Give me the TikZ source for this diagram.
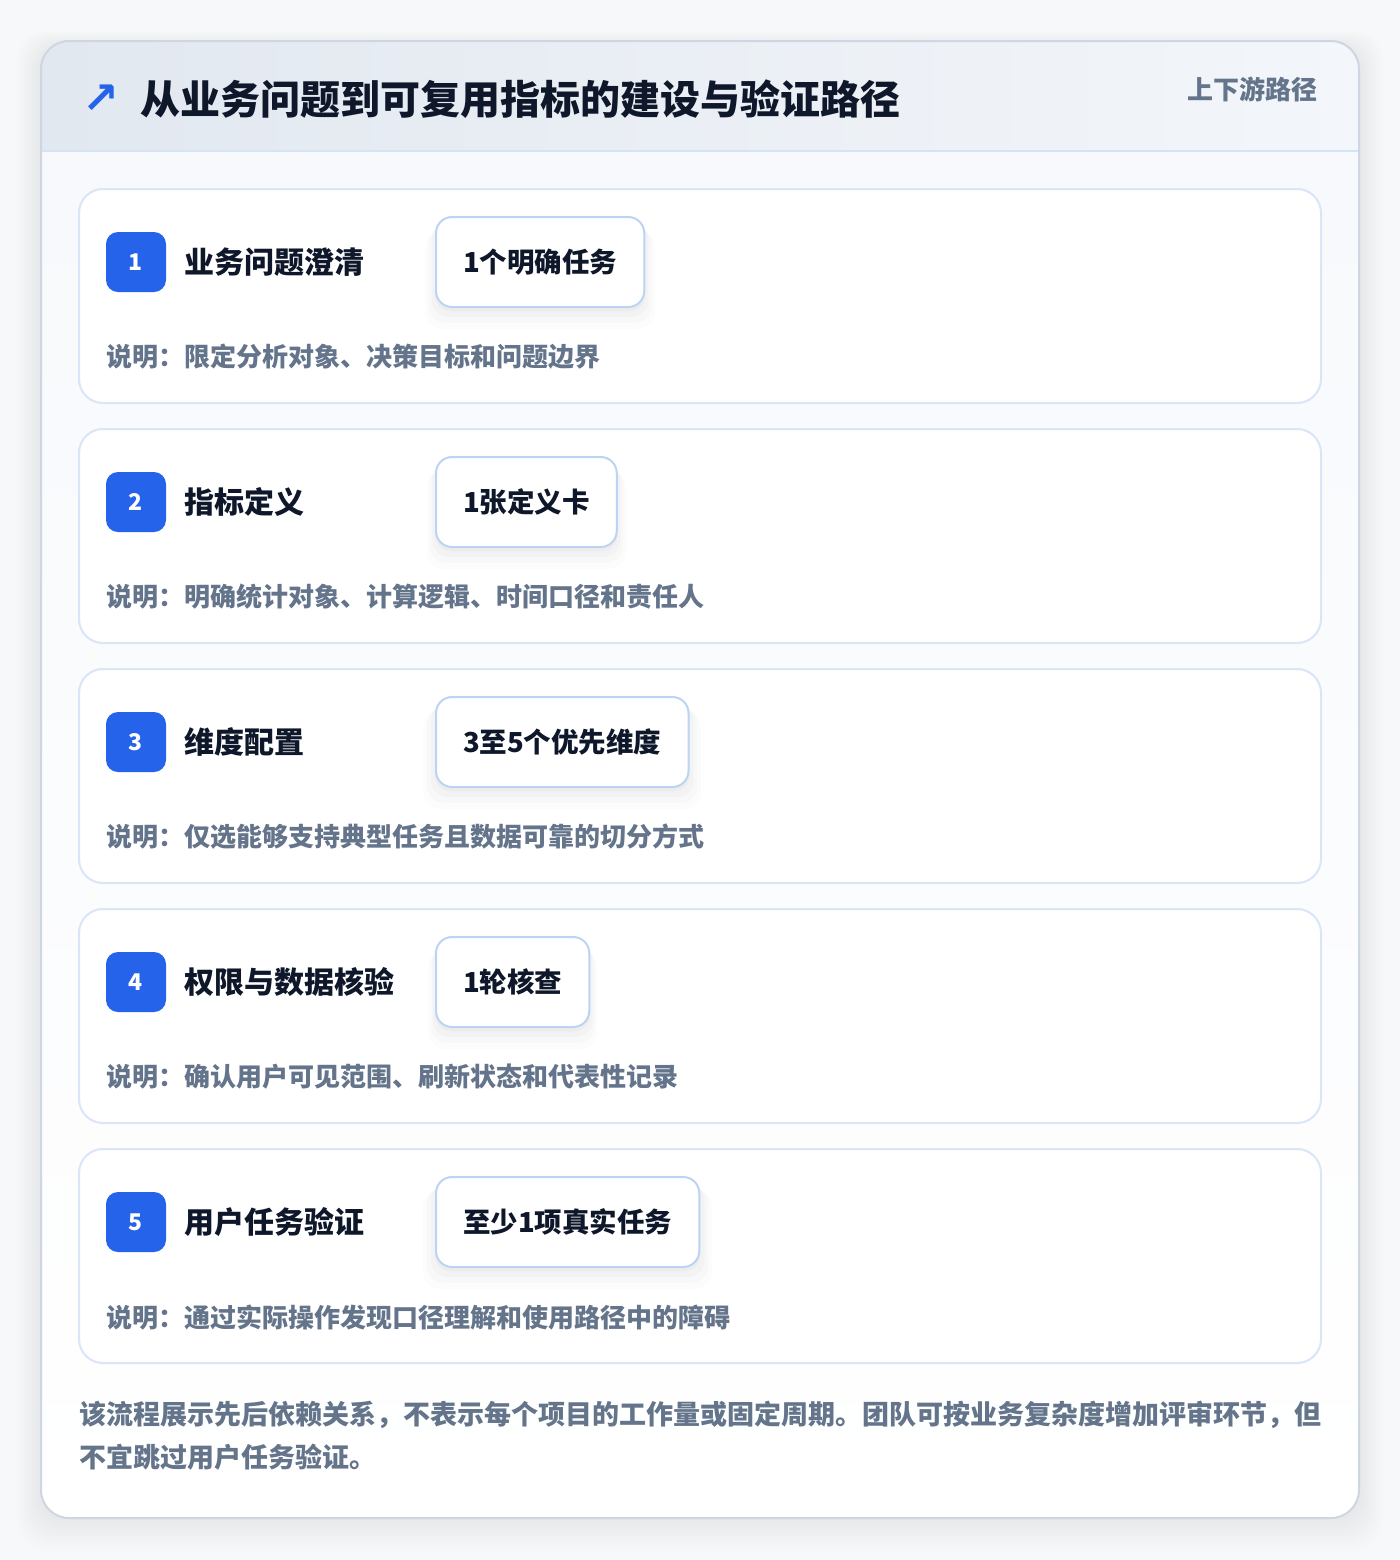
\documentclass[tikz,border=0pt]{standalone}
\usepackage{fontspec}
\setmainfont{Noto Sans CJK SC}
\newfontfamily\symfont{DejaVu Sans}
\usepackage{tikz}
\usetikzlibrary{positioning,shadows}
\XeTeXlinebreaklocale "zh"
\XeTeXlinebreakskip=0pt plus 2pt

\definecolor{pagebg}{HTML}{F7F8FA}
\definecolor{hdrleft}{HTML}{E2E8F0}
\definecolor{hdrright}{HTML}{F3F6FA}
\definecolor{bodytop}{HTML}{F7F9FC}
\definecolor{cardline}{HTML}{CDD6E2}
\definecolor{hdrline}{HTML}{D6E3F5}
\definecolor{stepline}{HTML}{D8E6F7}
\definecolor{pillline}{HTML}{BCD4F3}
\definecolor{ink}{HTML}{0F172A}
\definecolor{muted}{HTML}{64748B}
\definecolor{accent}{HTML}{2563EB}

\tikzset{
  stepcard/.style={draw=stepline, line width=1pt, fill=white, rounded corners=12pt,
    minimum width=621pt, minimum height=107pt},
  badge/.style={fill=accent, text=white, rounded corners=6pt, minimum size=30pt, inner sep=0pt,
    font=\fontsize{11.5}{13}\selectfont\bfseries},
  steptitle/.style={anchor=west, inner sep=0pt, text=ink, font=\fontsize{15}{18}\selectfont\bfseries},
  pill/.style={anchor=west, draw=pillline, line width=1pt, fill=white, rounded corners=8pt,
    minimum height=45pt, inner xsep=13.5pt, text=ink, font=\fontsize{13.75}{16}\selectfont\bfseries,
    drop shadow={shadow xshift=0pt, shadow yshift=-2pt, shadow scale=1.01, opacity=0.025, fill=black},
    drop shadow={shadow xshift=0pt, shadow yshift=-4pt, shadow scale=1.04, opacity=0.02, fill=black},
    drop shadow={shadow xshift=0pt, shadow yshift=-6pt, shadow scale=1.07, opacity=0.015, fill=black},
    drop shadow={shadow xshift=0pt, shadow yshift=-8pt, shadow scale=1.10, opacity=0.01, fill=black}},
  desc/.style={anchor=west, inner sep=0pt, text=muted, font=\fontsize{13}{16}\selectfont\bfseries},
  foot/.style={anchor=west, inner sep=0pt, text=muted, font=\fontsize{13.5}{21}\selectfont\bfseries},
}

\begin{document}
\begin{tikzpicture}[x=0.5pt, y=-0.5pt]
    \useasboundingbox[fill=pagebg] (0,0) rectangle (1400,1560);
    %\draw[help lines, step=100] (0,0) grid (1400,1560);
    \foreach \s in {1,...,16}
        \fill[black, opacity=0.004, rounded corners=14pt] (41-1.5*\s, 47-\s) rectangle (1359+1.5*\s, 1518+2*\s);
    \begin{scope}
        \clip[rounded corners=14pt] (41,41) rectangle (1359,1518);
        \shade[left color=hdrleft, right color=hdrright] (41,41) rectangle (1359,151);
        \shade[top color=bodytop, bottom color=white] (41,151) rectangle (1359,1518);
    \end{scope}
    \draw[hdrline, line width=1pt] (41,151) -- (1359,151);
    \draw[cardline, line width=1pt, rounded corners=14pt] (41,41) rectangle (1359,1518);

    \node[inner sep=0pt, text=accent, font=\symfont\fontsize{22}{24}\selectfont\bfseries] (icon) at (101,99) {↗};
    \node[anchor=west, inner sep=0pt, text=ink, font=\fontsize{20}{24}\selectfont\bfseries] (title) at (140,99)
        {从业务问题到可复用指标的建设与验证路径};
    \node[anchor=east, inner sep=0pt, text=muted, font=\fontsize{13}{16}\selectfont\bfseries] (tag) at (1318,89) {上下游路径};

    \node[stepcard] (card1) at (700,296) {};
    \node[badge] (num1) at (136,262) {1};
    \node[steptitle, right=9pt of num1] (name1) {业务问题澄清};
    \node[pill] (out1) at (435,262) {1个明确任务};
    \node[desc] (note1) at (106,357) {说明：限定分析对象、决策目标和问题边界};

    \node[stepcard] (card2) at (700,536) {};
    \node[badge] (num2) at (136,502) {2};
    \node[steptitle, right=9pt of num2] (name2) {指标定义};
    \node[pill] (out2) at (435,502) {1张定义卡};
    \node[desc] (note2) at (106,597) {说明：明确统计对象、计算逻辑、时间口径和责任人};

    \node[stepcard] (card3) at (700,776) {};
    \node[badge] (num3) at (136,742) {3};
    \node[steptitle, right=9pt of num3] (name3) {维度配置};
    \node[pill] (out3) at (435,742) {3至5个优先维度};
    \node[desc] (note3) at (106,837) {说明：仅选能够支持典型任务且数据可靠的切分方式};

    \node[stepcard] (card4) at (700,1016) {};
    \node[badge] (num4) at (136,982) {4};
    \node[steptitle, right=9pt of num4] (name4) {权限与数据核验};
    \node[pill] (out4) at (435,982) {1轮核查};
    \node[desc] (note4) at (106,1077) {说明：确认用户可见范围、刷新状态和代表性记录};

    \node[stepcard] (card5) at (700,1256) {};
    \node[badge] (num5) at (136,1222) {5};
    \node[steptitle, right=9pt of num5] (name5) {用户任务验证};
    \node[pill] (out5) at (435,1222) {至少1项真实任务};
    \node[desc] (note5) at (106,1317) {说明：通过实际操作发现口径理解和使用路径中的障碍};

    \node[foot] (foot1) at (79,1415)
        {\makebox[621pt][s]{该流程展示先后依赖关系，不表示每个项目的工作量或固定周期。团队可按业务复杂度增加评审环节，但}};
    \node[foot] (foot2) at (79,1457) {不宜跳过用户任务验证。};
\end{tikzpicture}
\end{document}
